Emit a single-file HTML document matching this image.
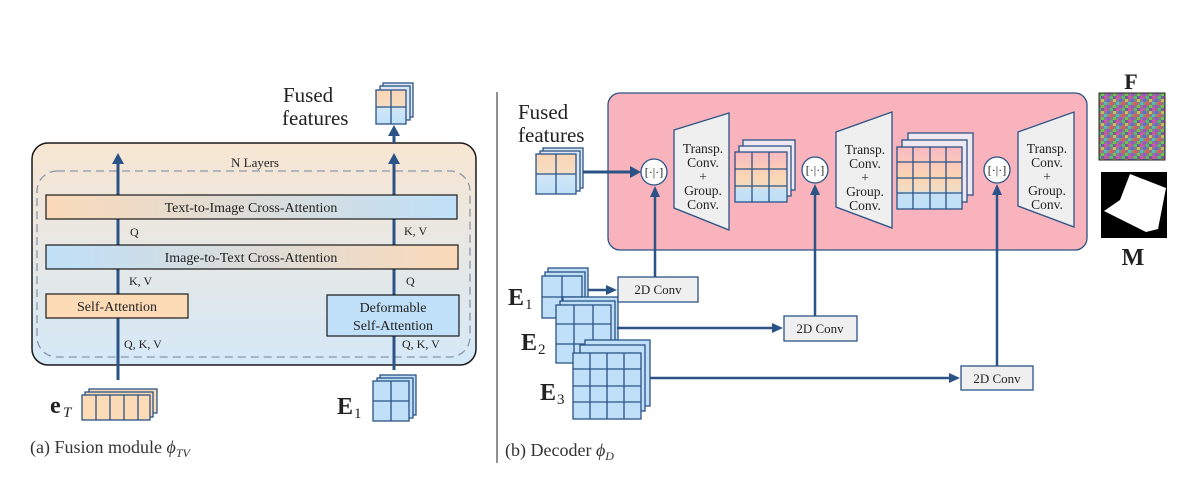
<!DOCTYPE html>
<html><head><meta charset="utf-8"><style>
html,body{margin:0;padding:0;background:#fff;}
svg{display:block;font-family:"Liberation Serif",serif;}
</style></head><body>
<svg width="1196" height="481" viewBox="0 0 1196 481" xmlns="http://www.w3.org/2000/svg">
<defs>
<linearGradient id="outer" x1="0" y1="0" x2="0" y2="1"><stop offset="0" stop-color="#f8e6d2"/><stop offset="1" stop-color="#d5e9f8"/></linearGradient>
<linearGradient id="pb" x1="0" y1="0" x2="1" y2="0"><stop offset="0" stop-color="#fad9b8"/><stop offset="1" stop-color="#bfe0f8"/></linearGradient>
<linearGradient id="bp" x1="0" y1="0" x2="1" y2="0"><stop offset="0" stop-color="#bfe0f8"/><stop offset="1" stop-color="#fad9b8"/></linearGradient>
<linearGradient id="cubeg" x1="0" y1="0" x2="0" y2="1"><stop offset="0" stop-color="#fbd6b6"/><stop offset="0.45" stop-color="#f6dcc0"/><stop offset="0.55" stop-color="#cfe6f6"/><stop offset="1" stop-color="#bfe0f8"/></linearGradient>
<linearGradient id="cubep" x1="0" y1="0" x2="0" y2="1"><stop offset="0" stop-color="#f9b9c2"/><stop offset="0.5" stop-color="#fad6b3"/><stop offset="0.7" stop-color="#f1dcc3"/><stop offset="0.75" stop-color="#c4e0f4"/><stop offset="1" stop-color="#bfe0f8"/></linearGradient>
<pattern id="noise" width="12" height="12" patternUnits="userSpaceOnUse">
<rect width="12" height="12" fill="#8c7a8a"/>
<rect x="0" y="0" width="3" height="3" fill="#d94fb0"/><rect x="6" y="0" width="3" height="3" fill="#4fbf6a"/>
<rect x="3" y="3" width="3" height="3" fill="#5a6fd8"/><rect x="9" y="3" width="3" height="3" fill="#c9c050"/>
<rect x="0" y="6" width="3" height="3" fill="#43c3c0"/><rect x="6" y="6" width="3" height="3" fill="#e05a5a"/>
<rect x="3" y="9" width="3" height="3" fill="#9b55c9"/><rect x="9" y="9" width="3" height="3" fill="#6ac94a"/>
<rect x="9" y="0" width="3" height="3" fill="#7a5a9a"/><rect x="3" y="6" width="3" height="3" fill="#a08a60"/>
</pattern>
</defs>

<!-- LEFT PANEL -->
<rect x="32" y="143" width="444" height="222" rx="16" fill="url(#outer)" stroke="#1a1a1a" stroke-width="1.5"/>
<rect x="37" y="171" width="433" height="186" rx="20" fill="none" stroke="#8a96a8" stroke-width="1.3" stroke-dasharray="8,5"/>
<text x="255" y="167" font-size="13" text-anchor="middle" fill="#222">N Layers</text>

<g stroke="#2b5386" stroke-width="3" fill="none">
<line x1="118" y1="380" x2="118" y2="162"/>
<line x1="394" y1="370" x2="394" y2="162"/>
<line x1="394" y1="143" x2="394" y2="134"/>
</g>
<path d="M112,164 L118,153 L124,164 Z" fill="#2b5386"/>
<path d="M388,164 L394,153 L400,164 Z" fill="#2b5386"/>
<path d="M388,136 L394,125 L400,136 Z" fill="#2b5386"/>

<rect x="46" y="195" width="411" height="24" fill="url(#pb)" stroke="#1a1a1a" stroke-width="1.2"/>
<text x="251" y="212" font-size="14" text-anchor="middle" fill="#222">Text-to-Image Cross-Attention</text>
<rect x="46" y="245" width="412" height="24" fill="url(#bp)" stroke="#1a1a1a" stroke-width="1.2"/>
<text x="251" y="262" font-size="14" text-anchor="middle" fill="#222">Image-to-Text Cross-Attention</text>
<rect x="46" y="294" width="142" height="24" fill="#fddbb6" stroke="#1a1a1a" stroke-width="1.2"/>
<text x="117" y="311" font-size="14" text-anchor="middle" fill="#222">Self-Attention</text>
<rect x="327" y="295" width="132" height="41" fill="#bfe0f8" stroke="#1a1a1a" stroke-width="1.2"/>
<text x="393" y="312" font-size="14" text-anchor="middle" fill="#222">Deformable</text>
<text x="393" y="330" font-size="14" text-anchor="middle" fill="#222">Self-Attention</text>

<g font-size="12" fill="#222">
<text x="130" y="236">Q</text>
<text x="129" y="285">K, V</text>
<text x="124" y="348">Q, K, V</text>
<text x="404" y="235">K, V</text>
<text x="406" y="285">Q</text>
<text x="402" y="348">Q, K, V</text>
</g>

<text x="283" y="102" font-size="21" fill="#222">Fused</text>
<text x="282" y="125" font-size="21" fill="#222">features</text>
<g stroke="#2b5386" stroke-width="1.3">
<rect x="383" y="83" width="30" height="34" fill="#dce8f3"/>
<rect x="380" y="86" width="30" height="34" fill="#dce8f3"/>
<rect x="376" y="90" width="30" height="34" fill="url(#cubeg)"/>
<line x1="391" y1="90" x2="391" y2="124"/><line x1="376" y1="107" x2="406" y2="107"/>
</g>

<g stroke="#2b5386" stroke-width="1.3" fill="#fddbb6">
<rect x="89" y="389" width="68" height="24"/>
<rect x="85" y="392" width="68" height="25"/>
<rect x="82" y="395" width="68" height="25"/>
<line x1="96" y1="395" x2="96" y2="420"/><line x1="110" y1="395" x2="110" y2="420"/><line x1="124" y1="395" x2="124" y2="420"/><line x1="138" y1="395" x2="138" y2="420"/>
</g>
<text x="50" y="413" font-size="24" font-weight="bold" fill="#222">e</text>
<text x="63" y="417" font-size="15" font-style="italic" fill="#222">T</text>

<g stroke="#2b5386" stroke-width="1.3" fill="#bfe0f8">
<rect x="380" y="375" width="36" height="40"/>
<rect x="377" y="378" width="36" height="40"/>
<rect x="373" y="381" width="36" height="40"/>
<line x1="391" y1="381" x2="391" y2="421"/><line x1="373" y1="401" x2="409" y2="401"/>
</g>
<text x="337" y="414" font-size="24" font-weight="bold" fill="#222">E</text>
<text x="354" y="418" font-size="15" fill="#222">1</text>

<text x="30" y="453" font-size="18" fill="#333">(a) Fusion module <tspan font-style="italic">ϕ</tspan><tspan font-size="12" font-style="italic" dy="4">TV</tspan></text>

<line x1="497" y1="92" x2="497" y2="463" stroke="#555" stroke-width="1.3"/>

<!-- RIGHT PANEL -->
<rect x="608" y="93" width="479" height="157" rx="12" fill="#f9b3bc" stroke="#2b5386" stroke-width="1.3"/>
<text x="518" y="119" font-size="21" fill="#222">Fused</text>
<text x="518" y="142" font-size="21" fill="#222">features</text>
<g stroke="#2b5386" stroke-width="1.3">
<rect x="543" y="148" width="40" height="40" fill="#dce8f3"/>
<rect x="540" y="151" width="40" height="40" fill="#dce8f3"/>
<rect x="536" y="154" width="40" height="40" fill="url(#cubeg)"/>
<line x1="556" y1="154" x2="556" y2="194"/><line x1="536" y1="174" x2="576" y2="174"/>
</g>
<line x1="583" y1="172" x2="632" y2="172" stroke="#2b5386" stroke-width="3"/>
<path d="M630,166 L641,172 L630,178 Z" fill="#2b5386"/>

<g fill="#fff" stroke="#2b5386" stroke-width="1.3">
<ellipse cx="654" cy="172" rx="13" ry="13"/>
<ellipse cx="815" cy="170" rx="13" ry="13"/>
<ellipse cx="997" cy="170" rx="13" ry="13"/>
</g>
<g font-size="12" text-anchor="middle" fill="#222">
<text x="654" y="176">[·|·]</text><text x="815" y="174">[·|·]</text><text x="997" y="174">[·|·]</text>
</g>

<g fill="#efefef" stroke="#2b5386" stroke-width="1.3">
<polygon points="674,130 729,113 729,230 674,208"/>
<polygon points="836,132 892,112 892,228 836,207"/>
<polygon points="1018,132 1074,112 1074,227 1018,206"/>
</g>
<g font-size="13.5" text-anchor="middle" fill="#222">
<text x="703" y="153">Transp.</text><text x="703" y="167">Conv.</text><text x="703" y="181">+</text><text x="703" y="195">Group.</text><text x="703" y="209">Conv.</text>
<text x="865" y="154">Transp.</text><text x="865" y="168">Conv.</text><text x="865" y="182">+</text><text x="865" y="196">Group.</text><text x="865" y="210">Conv.</text>
<text x="1047" y="153">Transp.</text><text x="1047" y="167">Conv.</text><text x="1047" y="181">+</text><text x="1047" y="195">Group.</text><text x="1047" y="209">Conv.</text>
</g>

<g stroke="#2b5386" stroke-width="1.3">
<rect x="743" y="140" width="52" height="50" fill="#f0e8f0"/>
<rect x="739" y="146" width="52" height="50" fill="#f0e8f0"/>
<rect x="735" y="152" width="52" height="50" fill="url(#cubep)"/>
<line x1="752" y1="152" x2="752" y2="202"/><line x1="769" y1="152" x2="769" y2="202"/>
<line x1="735" y1="169" x2="787" y2="169"/><line x1="735" y1="186" x2="787" y2="186"/>
</g>
<g stroke="#2b5386" stroke-width="1.3">
<rect x="908" y="133" width="65" height="62" fill="#f0e8f0"/>
<rect x="902" y="140" width="65" height="62" fill="#f0e8f0"/>
<rect x="897" y="147" width="65" height="62" fill="url(#cubep)"/>
<line x1="913" y1="147" x2="913" y2="209"/><line x1="930" y1="147" x2="930" y2="209"/><line x1="946" y1="147" x2="946" y2="209"/>
<line x1="897" y1="162" x2="962" y2="162"/><line x1="897" y1="178" x2="962" y2="178"/><line x1="897" y1="193" x2="962" y2="193"/>
</g>

<text x="1131" y="89" font-size="22" font-weight="bold" text-anchor="middle" fill="#222">F</text>
<rect x="1099" y="93" width="66" height="67" fill="url(#noise)" stroke="#222" stroke-width="1"/>
<rect x="1101" y="172" width="66" height="66" fill="#000"/>
<polygon points="1130,174 1166,188 1158,229 1146,232 1104,211 1120,200" fill="#fff"/>
<text x="1133" y="265" font-size="24" font-weight="bold" text-anchor="middle" fill="#222">M</text>

<g stroke="#2b5386" stroke-width="1.3" fill="#bfe0f8">
<rect x="548" y="268" width="40" height="42"/>
<rect x="545" y="272" width="40" height="42"/>
<rect x="542" y="276" width="40" height="42"/>
<line x1="562" y1="276" x2="562" y2="318"/><line x1="542" y1="297" x2="582" y2="297"/>

<rect x="563" y="297" width="55" height="58"/>
<rect x="560" y="301" width="55" height="58"/>
<rect x="556" y="305" width="55" height="58"/>
<line x1="574" y1="305" x2="574" y2="363"/><line x1="593" y1="305" x2="593" y2="363"/>
<line x1="556" y1="324" x2="611" y2="324"/><line x1="556" y1="344" x2="611" y2="344"/>

<rect x="585" y="340" width="65" height="66"/>
<rect x="580" y="345" width="65" height="66"/>
<rect x="573" y="353" width="68" height="66"/>
<line x1="590" y1="353" x2="590" y2="419"/><line x1="607" y1="353" x2="607" y2="419"/><line x1="624" y1="353" x2="624" y2="419"/>
<line x1="573" y1="369" x2="641" y2="369"/><line x1="573" y1="386" x2="641" y2="386"/><line x1="573" y1="402" x2="641" y2="402"/>
</g>
<g fill="#222">
<text x="508" y="305" font-size="24" font-weight="bold">E</text><text x="525" y="309" font-size="15">1</text>
<text x="521" y="350" font-size="24" font-weight="bold">E</text><text x="538" y="354" font-size="15">2</text>
<text x="540" y="400" font-size="24" font-weight="bold">E</text><text x="557" y="404" font-size="15">3</text>
</g>

<g fill="#efefef" stroke="#2b5386" stroke-width="1.3">
<rect x="618" y="277" width="80" height="25"/>
<rect x="784" y="316" width="73" height="25"/>
<rect x="961" y="366" width="72" height="24"/>
</g>
<g font-size="13" text-anchor="middle" fill="#222">
<text x="658" y="294">2D Conv</text><text x="820" y="333">2D Conv</text><text x="997" y="383">2D Conv</text>
</g>

<g stroke="#2b5386" stroke-width="2.5" fill="none">
<line x1="588" y1="290" x2="608" y2="290"/>
<line x1="617" y1="328" x2="774" y2="328"/>
<line x1="650" y1="378" x2="951" y2="378"/>
<line x1="655" y1="277" x2="655" y2="195"/>
<line x1="815" y1="316" x2="815" y2="193"/>
<line x1="997" y1="366" x2="997" y2="193"/>
</g>
<g fill="#2b5386">
<path d="M606,285 L617,290 L606,295 Z"/>
<path d="M772,323 L783,328 L772,333 Z"/>
<path d="M949,373 L960,378 L949,383 Z"/>
<path d="M650,197 L655,186 L660,197 Z"/>
<path d="M810,195 L815,184 L820,195 Z"/>
<path d="M992,195 L997,184 L1002,195 Z"/>
</g>

<text x="505" y="456" font-size="18" fill="#333">(b) Decoder <tspan font-style="italic">ϕ</tspan><tspan font-size="12" font-style="italic" dy="4">D</tspan></text>
</svg>
</body></html>
